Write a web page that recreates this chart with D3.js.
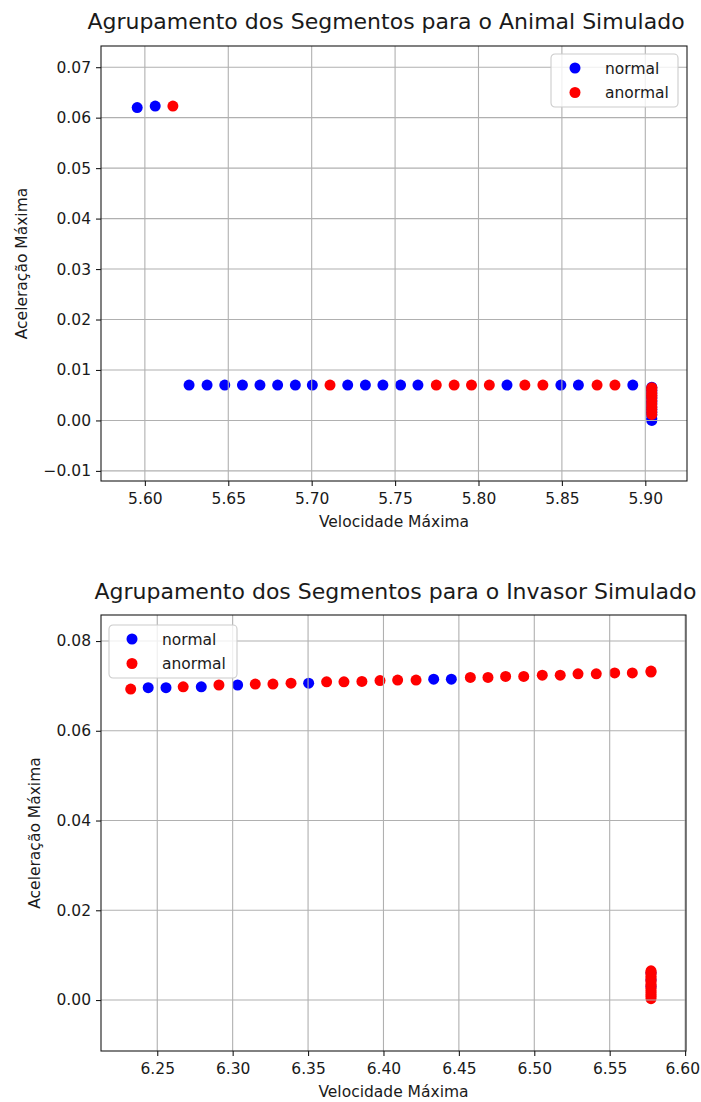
<!DOCTYPE html>
<meta charset="utf-8">
<style>
  body { margin: 0; background: #fff; }
  svg text { font-family: "DejaVu Sans", sans-serif; fill: #1a1a1a; }
  .tick text { font-size: 15.5px; }
  .title { font-size: 22px; text-anchor: middle; }
  .axlabel { font-size: 15.5px; text-anchor: middle; }
  .legtext { font-size: 15.5px; }
</style>
<body>
<svg width="701" height="1102"></svg>
<script src="https://cdn.jsdelivr.net/npm/d3@7/dist/d3.min.js"></script>
<script>

////////////////////
// DATA - Animal Simulado

const animalNormalVel = [5.5954, 5.6062,
  5.6265, 5.6373, 5.6479, 5.6585, 5.6690, 5.6796, 5.6902, 5.7004,
  5.7216, 5.7322, 5.7427, 5.7533, 5.7637, 5.8171, 5.8494, 5.8599, 5.8925,
  5.9039, 5.9039, 5.9039, 5.9039, 5.9039, 5.9039, 5.9039, 5.9039, 5.9039, 5.9039, 5.9039, 5.9039, 5.9039];
const animalNormalAcc = [0.0620, 0.0623,
  0.0070, 0.0070, 0.0070, 0.0070, 0.0070, 0.0070, 0.0070, 0.0070,
  0.0070, 0.0070, 0.0070, 0.0070, 0.0070, 0.0070, 0.0070, 0.0070, 0.0070,
  0.0000, 0.0004, 0.0011, 0.0016, 0.0022, 0.0027, 0.0033, 0.0038, 0.0044, 0.0049, 0.0055, 0.0060, 0.0066];

const animalAnormalVel = [5.6168,
  5.7110, 5.7747, 5.7854, 5.7958, 5.8065, 5.8278, 5.8386, 5.8711, 5.8818,
  5.9039, 5.9039, 5.9039, 5.9039, 5.9039, 5.9039, 5.9039, 5.9039, 5.9039, 5.9039, 5.9039, 5.9039, 5.9039];
const animalAnormalAcc = [0.0623,
  0.0070, 0.0070, 0.0070, 0.0070, 0.0070, 0.0070, 0.0070, 0.0070, 0.0070,
  0.0012, 0.0017, 0.0021, 0.0026, 0.0031, 0.0035, 0.0040, 0.0046, 0.0050, 0.0054, 0.0059, 0.0063, 0.0065];

////////////////////
// DATA - Invasor Simulado

const invasorNormalVel = [6.2440, 6.2558, 6.2792, 6.3033, 6.3504, 6.4333, 6.4450,
  6.5774, 6.5774, 6.5774];
const invasorNormalAcc = [0.0696, 0.0696, 0.0698, 0.0702, 0.0706, 0.0715, 0.0715,
  0.0030, 0.0045, 0.0060];

const invasorAnormalVel = [6.2324, 6.2672, 6.2909, 6.3150, 6.3267, 6.3387, 6.3623, 6.3738,
  6.3857, 6.3977, 6.4094, 6.4216, 6.4576, 6.4693, 6.4810, 6.4930, 6.5053, 6.5172,
  6.5290, 6.5411, 6.5533, 6.5650, 6.5774, 6.5774,
  6.5774, 6.5774, 6.5774, 6.5774, 6.5774, 6.5774, 6.5774, 6.5774, 6.5774, 6.5774, 6.5774, 6.5774, 6.5774, 6.5774, 6.5774];
const invasorAnormalAcc = [0.0693, 0.0698, 0.0702, 0.0704, 0.0704, 0.0706, 0.0709, 0.0709,
  0.0710, 0.0712, 0.0713, 0.0713, 0.0719, 0.0719, 0.0721, 0.0721, 0.0724, 0.0724,
  0.0727, 0.0727, 0.0729, 0.0729, 0.0731, 0.0733,
  0.0003, 0.0008, 0.0012, 0.0017, 0.0021, 0.0026, 0.0031, 0.0035, 0.0040, 0.0044, 0.0049, 0.0053, 0.0058, 0.0062, 0.0065];

const animalXTicks = [5.60, 5.65, 5.70, 5.75, 5.80, 5.85, 5.90];
const animalYTicks = [-0.01, 0.00, 0.01, 0.02, 0.03, 0.04, 0.05, 0.06, 0.07];
const invasorXTicks = [6.25, 6.30, 6.35, 6.40, 6.45, 6.50, 6.55, 6.60];
const invasorYTicks = [0.00, 0.02, 0.04, 0.06, 0.08];

const seriesNames = ["normal", "anormal"];
const seriesColors = { normal: "#0000ff", anormal: "#ff0000" };

const zip = (xs, ys) => xs.map((x, i) => ({ x: x, y: ys[i] }));

const svg = d3.select("svg");
const W = +svg.attr("width");

function drawPanel(cfg) {
  const x = d3.scaleLinear().domain(cfg.xDomain).range([cfg.left, cfg.right]);
  const y = d3.scaleLinear().domain(cfg.yDomain).range([cfg.bottom, cfg.top]);
  const g = svg.append("g");

  // points (normal first, then anormal on top)
  seriesNames.forEach(name => {
    g.append("g").selectAll("circle")
      .data(cfg.series[name])
      .join("circle")
      .attr("cx", d => x(d.x))
      .attr("cy", d => y(d.y))
      .attr("r", 5.5)
      .attr("fill", seriesColors[name]);
  });

  // grid (drawn above the scatter, like matplotlib)
  const grid = g.append("g").attr("stroke", "#b0b0b0").attr("stroke-width", 1.1);
  grid.selectAll(".gx").data(cfg.xTicks).join("line")
    .attr("x1", d => x(d)).attr("x2", d => x(d))
    .attr("y1", cfg.top).attr("y2", cfg.bottom);
  grid.selectAll(".gy").data(cfg.yTicks).join("line")
    .attr("y1", d => y(d)).attr("y2", d => y(d))
    .attr("x1", cfg.left).attr("x2", cfg.right);

  // axes
  const fmt = d3.format(".2f");
  const xAxis = g.append("g")
    .attr("transform", `translate(0,${cfg.bottom})`)
    .call(d3.axisBottom(x).tickValues(cfg.xTicks).tickFormat(fmt).tickSize(5).tickPadding(5));
  const yAxis = g.append("g")
    .attr("transform", `translate(${cfg.left},0)`)
    .call(d3.axisLeft(y).tickValues(cfg.yTicks).tickFormat(fmt).tickSize(5).tickPadding(5));
  [xAxis, yAxis].forEach(a => {
    a.select(".domain").remove();
    a.selectAll(".tick line").attr("stroke", "#1a1a1a").attr("stroke-width", 1.1);
    a.selectAll(".tick text").attr("font-family", null).attr("font-size", null);
  });
  xAxis.selectAll(".tick text").attr("dy", "0.85em");
  // keep the last label inside the window
  xAxis.selectAll(".tick text").each(function() {
    const b = this.getBBox(), t = d3.select(this.parentNode).attr("transform");
    const tx = +t.match(/translate\(([-\d.]+)/)[1];
    const over = tx + b.x + b.width - (W - 1);
    if (over > 0) d3.select(this).attr("x", -over);
  });

  // frame
  g.append("rect")
    .attr("x", cfg.left).attr("y", cfg.top)
    .attr("width", cfg.right - cfg.left).attr("height", cfg.bottom - cfg.top)
    .attr("fill", "none").attr("stroke", "#1a1a1a").attr("stroke-width", 1.1);

  // labels
  g.append("text").attr("class", "title")
    .attr("x", (cfg.left + cfg.right) / 2 + cfg.titleDx).attr("y", cfg.titleY)
    .text(cfg.title);
  g.append("text").attr("class", "axlabel")
    .attr("x", (cfg.left + cfg.right) / 2).attr("y", cfg.xLabelY)
    .text("Velocidade Máxima");
  g.append("text").attr("class", "axlabel")
    .attr("transform", `translate(${cfg.yLabelX},${(cfg.top + cfg.bottom) / 2}) rotate(-90)`)
    .text("Aceleração Máxima");

  // legend
  const L = cfg.legend;
  const leg = g.append("g").attr("transform", `translate(${L.x},${L.y})`);
  leg.append("rect")
    .attr("width", L.w).attr("height", L.h).attr("rx", 4)
    .attr("fill", "#fff").attr("fill-opacity", 0.8)
    .attr("stroke", "#cccccc").attr("stroke-width", 1.1);
  seriesNames.forEach((name, i) => {
    leg.append("circle")
      .attr("cx", L.mx).attr("cy", 14 + i * 24.5)
      .attr("r", 5.5).attr("fill", seriesColors[name]);
    leg.append("text").attr("class", "legtext")
      .attr("x", L.tx).attr("y", 14 + i * 24.5 + 5.5)
      .text(name);
  });
}

drawPanel({
  left: 101, right: 687, top: 46, bottom: 481,
  xDomain: [5.5737, 5.925], yDomain: [-0.0120, 0.0742],
  xTicks: animalXTicks, yTicks: animalYTicks,
  series: { normal: zip(animalNormalVel, animalNormalAcc), anormal: zip(animalAnormalVel, animalAnormalAcc) },
  title: "Agrupamento dos Segmentos para o Animal Simulado",
  titleY: 29, titleDx: -8, xLabelY: 527, yLabelX: 27,
  legend: { x: 551, y: 54, w: 127, h: 53, mx: 24, tx: 54 }
});

drawPanel({
  left: 101, right: 686, top: 615, bottom: 1051,
  xDomain: [6.2127, 6.6006], yDomain: [-0.01136, 0.0858],
  xTicks: invasorXTicks, yTicks: invasorYTicks,
  series: { normal: zip(invasorNormalVel, invasorNormalAcc), anormal: zip(invasorAnormalVel, invasorAnormalAcc) },
  title: "Agrupamento dos Segmentos para o Invasor Simulado",
  titleY: 599, titleDx: 2, xLabelY: 1097, yLabelX: 40,
  legend: { x: 109, y: 625, w: 128, h: 53, mx: 23, tx: 53 }
});
</script>
</body>
